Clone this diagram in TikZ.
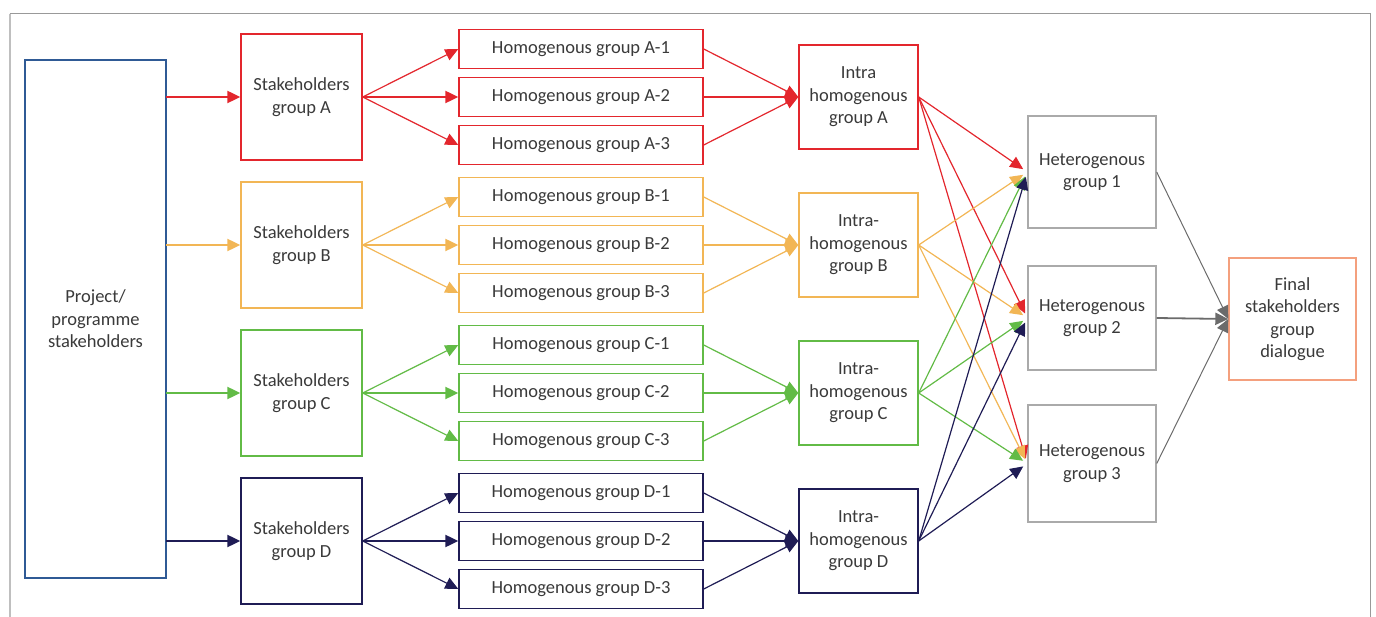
\documentclass[tikz,border=0pt]{standalone}
\usepackage{fontspec}
\setmainfont{Carlito}
\usetikzlibrary{arrows.meta}
\definecolor{cred}{HTML}{E3262D}
\definecolor{corange}{HTML}{F2B655}
\definecolor{cgreen}{HTML}{62BB46}
\definecolor{cnavy}{HTML}{1F1C55}
\definecolor{cblue}{HTML}{2F5A95}
\definecolor{cgrey}{HTML}{AAAAAA}
\definecolor{csalmon}{HTML}{F4A07E}
\definecolor{ctext}{HTML}{3A3A3A}
\definecolor{carrow}{HTML}{6B6B6B}
\tikzset{
  box/.style={draw, line width=1.4pt, fill=white, inner sep=0pt, align=center, text=ctext,
    font=\fontsize{18.5}{22.5}\selectfont},
  arr/.style={line width=1.2pt, -{Triangle[length=13pt,width=12pt]}},
  harr/.style={line width=2.2pt, -{Triangle[length=13pt,width=12pt]}},
}
\begin{document}
\begin{tikzpicture}[x=1pt,y=-1pt]
\useasboundingbox (0,0) rectangle (1376,617);
% frame
\draw[line width=1pt, color=gray!80] (9.5,14) -- (1370.5,14);
\draw[line width=1.5pt, color=gray!50] (10,14) -- (10,617);
\draw[line width=1pt, color=gray!80] (1370.5,14) -- (1370.5,617);

\node[box, draw=cblue, minimum width=141pt, minimum height=518pt] (P) at (95.5,319) {Project/\\programme\\stakeholders};

\foreach \g/\c/\k/\ia in {A/cred/0/{Intra},B/corange/1/{Intra-},C/cgreen/2/{Intra-},D/cnavy/3/{Intra-}}{
  \pgfmathsetmacro{\yc}{97+148*\k}
  \node[box, draw=\c, minimum width=121pt, minimum height=126pt] (S\g) at (301.5,\yc) {Stakeholders\\group \g};
  \node[box, draw=\c, minimum width=244pt, minimum height=39pt] (H\g1) at (581,\yc-48) {Homogenous group \g-1};
  \node[box, draw=\c, minimum width=244pt, minimum height=39pt] (H\g2) at (581,\yc) {Homogenous group \g-2};
  \node[box, draw=\c, minimum width=244pt, minimum height=39pt] (H\g3) at (581,\yc+48) {Homogenous group \g-3};
  \node[box, draw=\c, minimum width=119pt, minimum height=104pt] (I\g) at (858.5,\yc) {\ia\\homogenous\\group \g};
  \coordinate (PS\g) at (166,\yc);
  \draw[harr, \c] (PS\g) -- (S\g.west);
  \draw[arr, \c] (S\g.east) -- (H\g1.west);
  \draw[harr, \c] (S\g.east) -- (H\g2.west);
  \draw[arr, \c] (S\g.east) -- (H\g3.west);
  \draw[arr, \c] (H\g1.east) -- (I\g.west);
  \draw[harr, \c] (H\g2.east) -- (I\g.west);
  \draw[arr, \c] (H\g3.east) -- (I\g.west);
}

\node[box, draw=cgrey, minimum width=128pt, minimum height=112pt] (T1) at (1092,172) {Heterogenous\\group 1};
\node[box, draw=cgrey, minimum width=128pt, minimum height=104pt] (T2) at (1092,318) {Heterogenous\\group 2};
\node[box, draw=cgrey, minimum width=128pt, minimum height=117pt] (T3) at (1092,463.5) {Heterogenous\\group 3};
\node[box, draw=csalmon, minimum width=127pt, minimum height=122pt] (F) at (1292.5,319) {Final\\stakeholders\\group\\dialogue};

\foreach \g/\c in {A/cred,B/corange,C/cgreen,D/cnavy}{
  \foreach \t in {1,2,3}{
    \draw[arr, \c, shorten >=5pt] (I\g.east) -- (T\t.west);
  }
}
\draw[arr, carrow, line width=1pt] (T1.east) -- (F.west);
\draw[harr, carrow, line width=1.8pt] (T2.east) -- (F.west);
\draw[arr, carrow, line width=1pt] (T3.east) -- (F.west);
\end{tikzpicture}
\end{document}
